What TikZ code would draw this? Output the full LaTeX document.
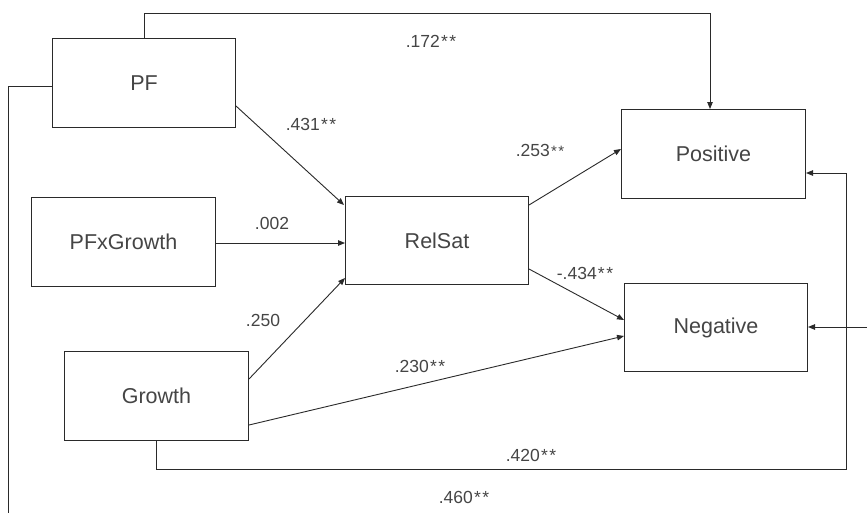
\documentclass[tikz,border=0pt]{standalone}
\usepackage{fontspec}
\setmainfont{Liberation Sans}
\usetikzlibrary{arrows.meta,calc}
\definecolor{txt}{HTML}{454545}
\definecolor{ln}{HTML}{2a2a2a}
\newcommand\mystars{\kern1.2pt*\kern1.5pt*}
\begin{document}
\begin{tikzpicture}[x=1pt,y=-1pt,
  box/.style={draw=ln,line width=1pt,anchor=north west,minimum width=#1,minimum height=89pt,inner sep=0pt,text=txt,font=\fontsize{21.5}{25}\selectfont},
  box/.default=183pt,
  arr/.style={draw=ln,line width=0.9pt,-{Triangle[length=7pt,width=5.5pt]}},
  lnk/.style={draw=ln,line width=0.9pt},
  lab/.style={text=txt,font=\fontsize{17.5}{20}\selectfont,inner sep=0pt}]
\useasboundingbox (0,0) rectangle (867,512);
\clip (0,0) rectangle (867,512);
\fill[white] (0,0) rectangle (867,512);
% boxes
\node[box=183pt] (PF) at (52,38) {PF};
\node[box=184pt] (PFxG) at (31,197) {PFxGrowth};
\node[box=184pt] (Growth) at (64,351) {Growth};
\node[box=183pt,minimum height=88pt] (RelSat) at (345,196) {RelSat};
\node[box=184pt] (Positive) at (621,109) {Positive};
\node[box=183pt,minimum height=88pt] (Negative) at (624,283) {Negative};
% coordinates for outer routes
\coordinate (t1) at (144,13);
\coordinate (r1) at (846,469);
\coordinate (r2) at (846,173);
\coordinate (l1) at (8,86);
\coordinate (l2) at (8,540);
\coordinate (n1) at (880,327);
% connectors
\draw[arr] ($(PF.south east)+(0,-22)$) -- ($(RelSat.north west)+(-1,9)$);
\draw[arr] ($(PFxG.east)+(0,1)$) -- ($(PFxG.east -| RelSat.west)+(0,1)$);
\draw[arr] ($(Growth.north east)+(0,28)$) -- ($(RelSat.south west)+(0,-7)$);
\draw[arr] ($(Growth.south east)+(0,-16)$) -- ($(Negative.south west)+(0,-36)$);
\draw[arr] ($(RelSat.north east)+(0,9)$) -- ($(Positive.north west)+(0,40)$);
\draw[arr] ($(RelSat.south east)+(0,-16)$) -- ($(Negative.north west)+(0,37)$);
\draw[arr] ($(PF.north west)+(92,0)$) |- (t1) -| ($(Positive.north west)+(89,0)$);
\draw[arr] ($(Growth.south west)+(92,0)$) |- (r1) -- (r2) -- ($(Positive.north east)+(0,64)$);
\draw[lnk] ($(PF.north west)+(0,48)$) -- (l1) -- (l2);
\draw[arr] (n1) -- (n1 -| Negative.east);
% labels
\node[lab] (L1) at (431,41) {.172\mystars};
\node[lab] (L2) at (311,124) {.431\mystars};
\node[lab] (L3) at (272,223) {.002};
\node[lab] (L4) at (263,320) {.250};
\node[lab] (L5) at (540,150) {.253{\fontsize{15}{16}\selectfont\mystars}};
\node[lab] (L6) at (585,273) {-.434\mystars};
\node[lab] (L7) at (420,366) {.230\mystars};
\node[lab] (L8) at (531,455) {.420\mystars};
\node[lab] (L9) at (464,497) {.460\mystars};
\end{tikzpicture}
\end{document}
